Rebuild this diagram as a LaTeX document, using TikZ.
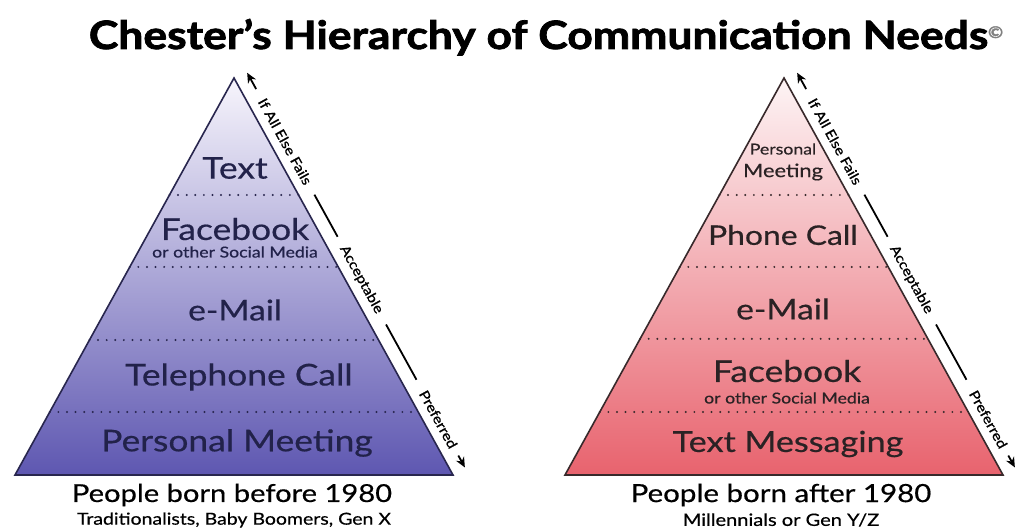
\documentclass[tikz,border=0pt]{standalone}
\usepackage{fontspec}
\setmainfont{Lato}[FakeStretch=1.18, FakeBold=0.5]
\newfontfamily\titlefont{Lato Bold}[FakeStretch=1.14, FakeBold=2]
\newfontfamily\scalefont{Lato}[FakeStretch=1.15, FakeBold=1]
\usetikzlibrary{calc,arrows.meta}

\definecolor{lavtop}{HTML}{F7F5FC}
\definecolor{lavmid}{HTML}{CDC9E8}
\definecolor{lavbot}{HTML}{5E57B1}
\definecolor{pinktop}{HTML}{FDF4F5}
\definecolor{pinkmid}{HTML}{F4C0C6}
\definecolor{pinkbot}{HTML}{E8636E}
\definecolor{navyink}{HTML}{22224A}
\definecolor{roseink}{HTML}{2A2224}
\definecolor{edgeL}{HTML}{28264E}
\definecolor{edgeR}{HTML}{38292B}

\newcommand{\fsz}[1]{\fontsize{#1}{#1}\selectfont}

\tikzset{
  pyredge/.style={line width=1.6pt, line join=miter},
  dotrule/.style={line width=2.2pt, line cap=round, dash pattern=on 0pt off 8.6pt},
  tier/.style={inner sep=0pt, anchor=center},
  scaleline/.style={line width=1.8pt, black},
  scaletip/.style={line width=1.8pt, black, -{Stealth[length=10pt,width=9pt]}},
  scaletext/.style={sloped, inner sep=0pt, font=\scalefont\fsz{13.5}},
  caption/.style={inner sep=0pt, black},
}

\begin{document}
\begin{tikzpicture}[x=1pt,y=-1pt]
\useasboundingbox (0,0) rectangle (1023,532);
\fill[white] (0,0) rectangle (1023,532);

% title
\node[inner sep=0pt, anchor=base] (title) at (546,49)
  {\titlefont\fsz{39}Chester’s Hierarchy of Communication Needs\raisebox{11pt}{\mdseries\fsz{16}\color{gray}©}};

% ---------- left pyramid: people born before 1980 ----------
\coordinate (La) at (234,78);
\coordinate (Lbl) at (15,475);
\coordinate (Lbr) at (453,475);
\shade[top color=lavtop, middle color=lavmid, bottom color=lavbot]
  (La) -- (Lbr) -- (Lbl) -- cycle;
\foreach \t in {0.2947,0.476,0.660,0.8413}
  \draw[dotrule, color=edgeL] ($(La)!\t!(Lbl)$) -- ($(La)!\t!(Lbr)$);
\draw[pyredge, color=edgeL] (La) -- (Lbr) -- (Lbl) -- cycle;

\node[tier, text=navyink, font=\fsz{30}] (Ltext) at (235,168) {Text};
\node[tier, text=navyink, font=\fsz{30}] (Lfb) at (235,229) {Facebook};
\node[tier, text=navyink, font=\fsz{15}] (Lfbs) at (235,252) {or other Social Media};
\node[tier, text=navyink, font=\fsz{28.5}] (Lmail) at (235,310) {e-Mail};
\node[tier, text=navyink, font=\fsz{30}] (Lphone) at (239,377) {Telephone Call};
\node[tier, text=navyink, font=\fsz{30}] (Lmeet) at (237,443) {Personal Meeting};

\node[caption, font=\fsz{24.7}] (Lcap) at (232,495) {People born before 1980};
\node[caption, font=\fsz{16.5}] (Lsub) at (234,520) {Traditionalists, Baby Boomers, Gen X};

% preference scale along the right edge
\coordinate (LsA) at (246.3,71.2);
\coordinate (LsB) at (465.3,468.2);
\draw[scaletip] ($(LsA)!0.045!(LsB)$) -- ($(LsA)!0.004!(LsB)$);
\path (LsA) -- (LsB)
  node[scaletext, pos=0.177] (Lfail) {If All Else Fails}
  node[scaletext, pos=0.525] (Lacc) {Acceptable}
  node[scaletext, pos=0.877] (Lpref) {Preferred};
\draw[scaleline] ($(LsA)!0.311!(LsB)$) -- ($(LsA)!0.417!(LsB)$);
\draw[scaleline] ($(LsA)!0.638!(LsB)$) -- ($(LsA)!0.777!(LsB)$);
\draw[scaletip] ($(LsA)!0.968!(LsB)$) -- ($(LsA)!0.998!(LsB)$);

% ---------- right pyramid: people born after 1980 ----------
\coordinate (Ra) at (784,78);
\coordinate (Rbl) at (565,475);
\coordinate (Rbr) at (1003,475);
\shade[top color=pinktop, middle color=pinkmid, bottom color=pinkbot]
  (Ra) -- (Rbr) -- (Rbl) -- cycle;
\foreach \t in {0.2947,0.476,0.657,0.8413}
  \draw[dotrule, color=edgeR] ($(Ra)!\t!(Rbl)$) -- ($(Ra)!\t!(Rbr)$);
\draw[pyredge, color=edgeR] (Ra) -- (Rbr) -- (Rbl) -- cycle;

\node[tier, text=roseink, font=\fsz{15}] (Rmeet1) at (783,149) {Personal};
\node[tier, text=roseink, font=\fsz{18.5}] (Rmeet2) at (783,172) {Meeting};
\node[tier, text=roseink, font=\fsz{27}] (Rphone) at (783,235) {Phone Call};
\node[tier, text=roseink, font=\fsz{28.5}] (Rmail) at (783,309) {e-Mail};
\node[tier, text=roseink, font=\fsz{30}] (Rfb) at (787,371) {Facebook};
\node[tier, text=roseink, font=\fsz{15}] (Rfbs) at (787,398) {or other Social Media};
\node[tier, text=roseink, font=\fsz{29}] (Rtxt) at (788,444) {Text Messaging};

\node[caption, font=\fsz{25}] (Rcap) at (781,495) {People born after 1980};
\node[caption, font=\fsz{17}] (Rsub) at (781,520) {Millennials or Gen Y/Z};

\coordinate (RsA) at (796.3,71.2);
\coordinate (RsB) at (1015.3,468.2);
\draw[scaletip] ($(RsA)!0.045!(RsB)$) -- ($(RsA)!0.004!(RsB)$);
\path (RsA) -- (RsB)
  node[scaletext, pos=0.177] (Rfail) {If All Else Fails}
  node[scaletext, pos=0.525] (Racc) {Acceptable}
  node[scaletext, pos=0.877] (Rpref) {Preferred};
\draw[scaleline] ($(RsA)!0.311!(RsB)$) -- ($(RsA)!0.417!(RsB)$);
\draw[scaleline] ($(RsA)!0.638!(RsB)$) -- ($(RsA)!0.777!(RsB)$);
\draw[scaletip] ($(RsA)!0.968!(RsB)$) -- ($(RsA)!0.998!(RsB)$);
\end{tikzpicture}
\end{document}
